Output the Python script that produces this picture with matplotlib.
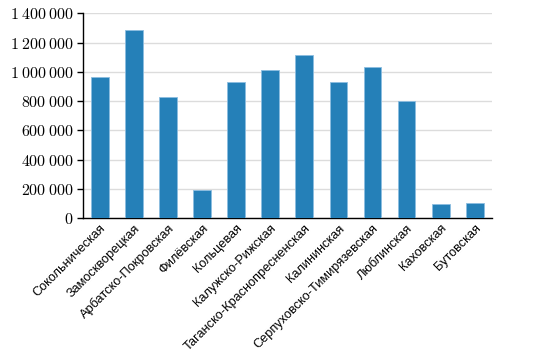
import matplotlib
matplotlib.use('Agg')
import matplotlib.pyplot as plt
from matplotlib.ticker import FuncFormatter

plt.rcParams['mathtext.fontset'] = 'cm'

# Passenger numbers per metro line
lines = ['Сокольническая', 'Замоскворецкая', 'Арбатско-Покровская', 'Филёвская',
         'Кольцевая', 'Калужско-Рижская', 'Таганско-Краснопресненская',
         'Калининская', 'Серпуховско-Тимирязевская', 'Люблинская',
         'Каховская', 'Бутовская']
passengers = [962000, 1288000, 831000, 192000, 929000, 1016000, 1114000,
              929000, 1034000, 801000, 94000, 101000]
y_ticks = [0, 200000, 400000, 600000, 800000, 1000000, 1200000, 1400000]

fig = plt.figure(figsize=(5.34, 3.54), dpi=100)
ax = fig.add_axes([0.155, 0.384, 0.766, 0.578])

x = range(len(lines))
ax.bar(x, passengers, width=0.52, color='#2580b8', edgecolor='#8cbde0',
       linewidth=0.6, zorder=3)

ax.set_xlim(-0.5, len(lines) - 0.5)
ax.set_ylim(0, 1400000)
ax.set_yticks(y_ticks)


def fmt(v, pos):
    s = '{:,}'.format(int(v)).replace(',', r'\:')
    return '$' + s + '$'


ax.yaxis.set_major_formatter(FuncFormatter(fmt))
ax.tick_params(axis='y', labelsize=11.5, length=4, width=1, pad=3)
ax.tick_params(axis='x', length=0, pad=3)
ax.set_xticks(list(x))
ax.set_xticklabels(lines, rotation=45, ha='right', rotation_mode='anchor',
                   fontsize=9.2, family='Liberation Sans')

ax.grid(axis='y', color='#dcdcdc', linewidth=1, zorder=0)
ax.spines['top'].set_visible(False)
ax.spines['right'].set_visible(False)
ax.spines['left'].set_linewidth(1)
ax.spines['bottom'].set_linewidth(1)

plt.savefig('out.png', dpi=100)
